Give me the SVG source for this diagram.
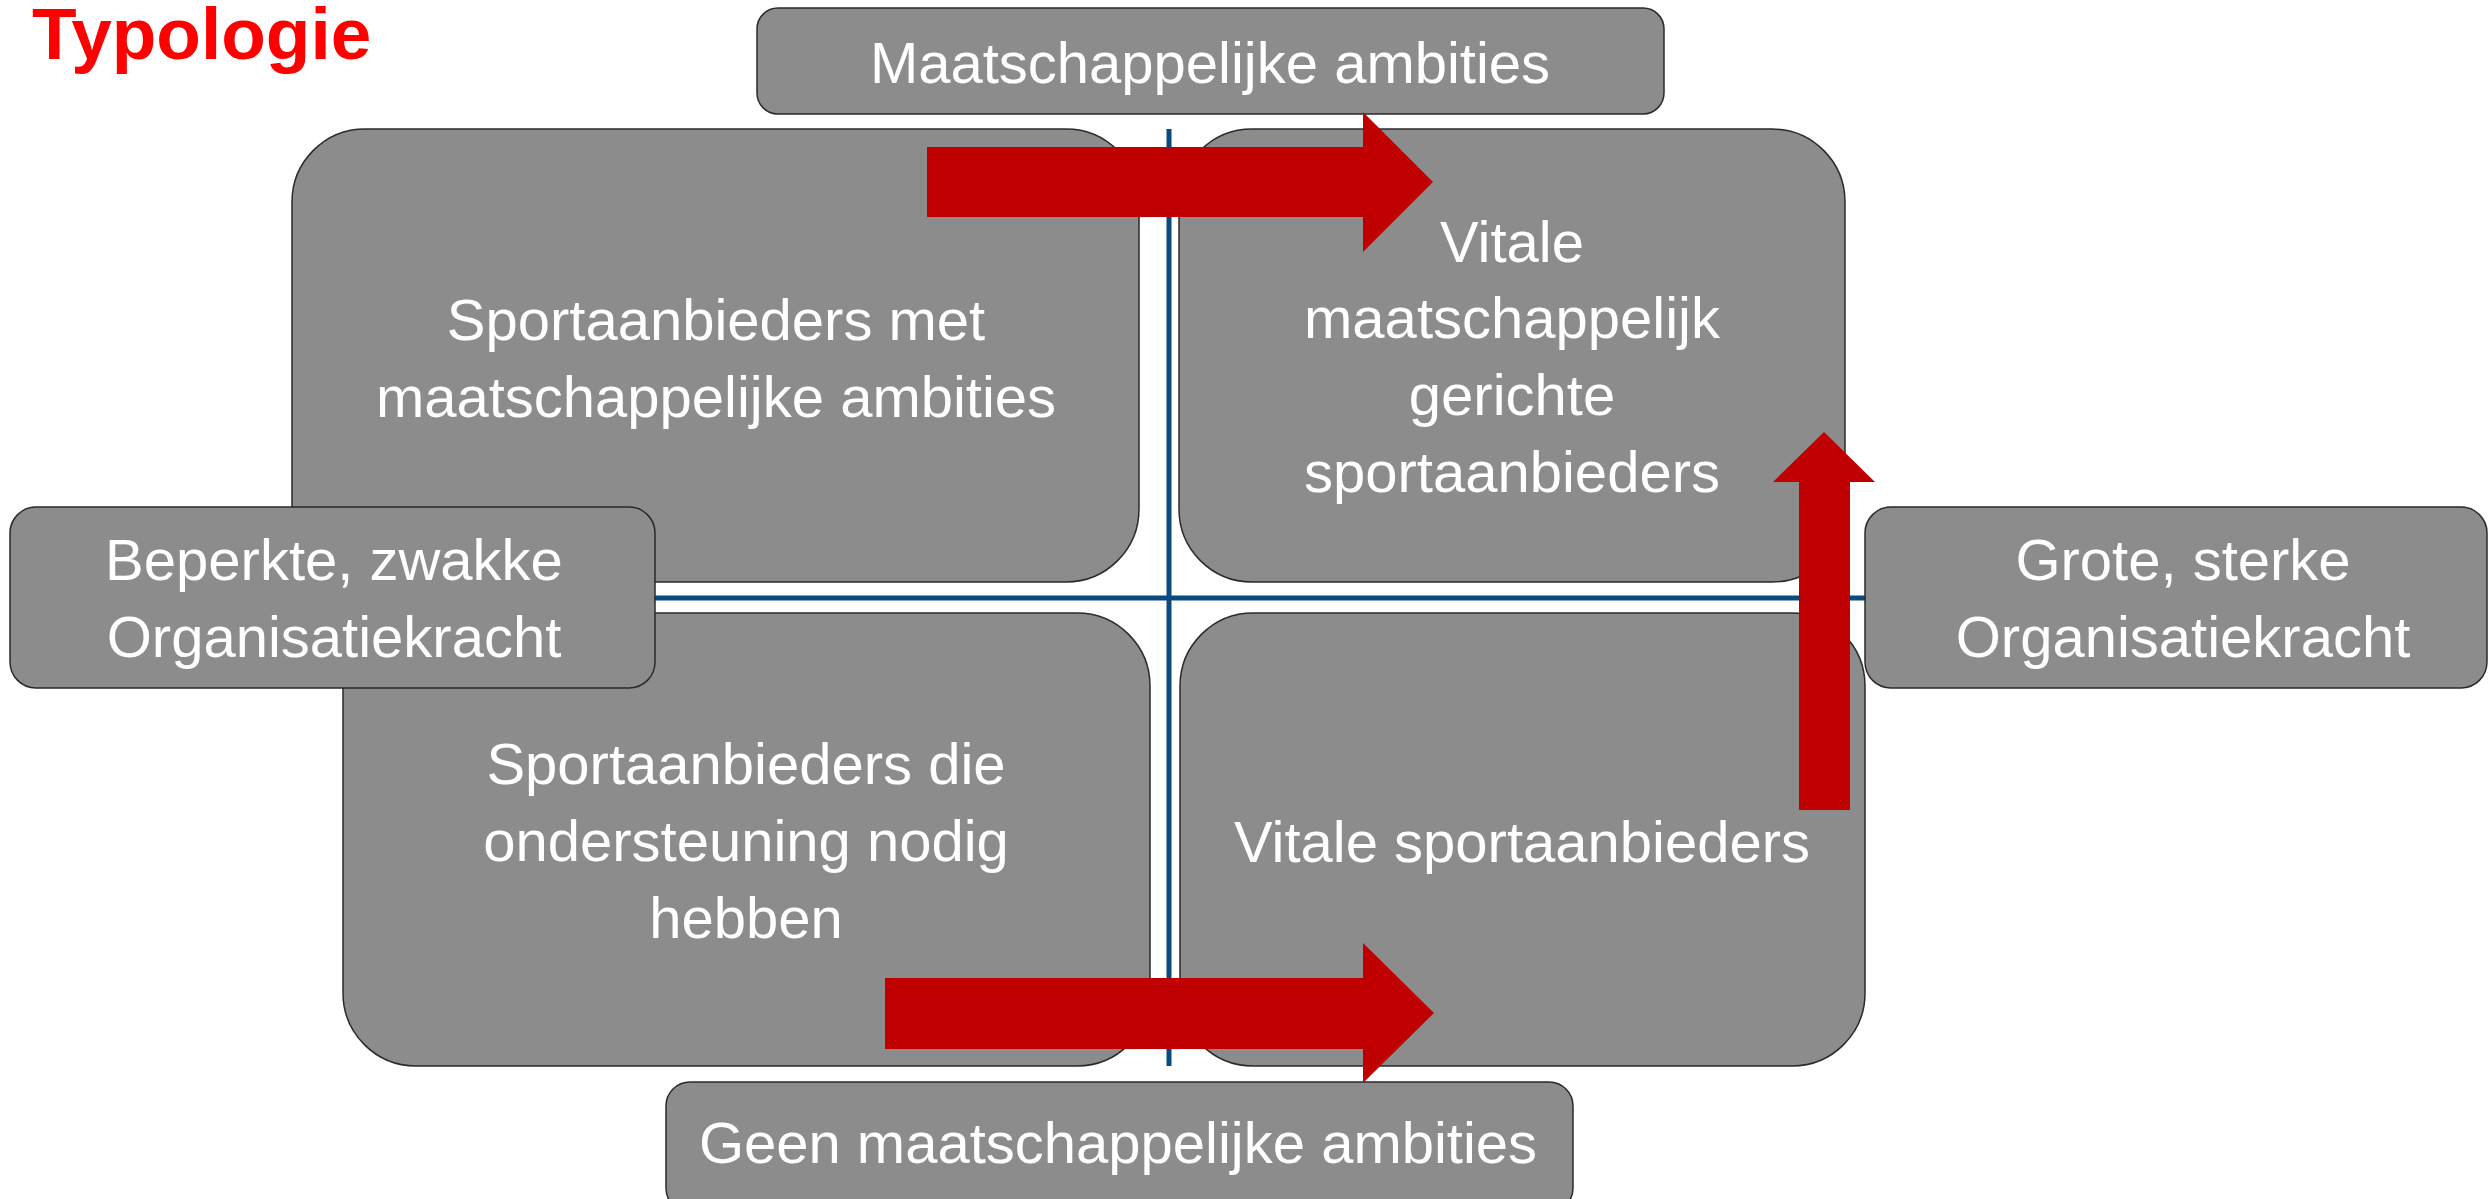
<svg xmlns="http://www.w3.org/2000/svg" width="2489" height="1199" viewBox="0 0 2489 1199">
<style>
.box{fill:#8c8c8c;stroke:#2a2a2a;stroke-width:1.5}
.t{font-family:"Liberation Sans",Arial,sans-serif;font-size:58px;fill:#ffffff;text-anchor:middle}
.axis{stroke:#0b4a80;stroke-width:5;fill:none}
.arrow{fill:#c00000}
</style>
<rect width="2489" height="1199" fill="#ffffff"/>
<text x="32" y="59" font-family="Liberation Sans,Arial,sans-serif" font-weight="bold" font-size="73" fill="#ff0000">Typologie</text>
<g id="axes">
<line class="axis" x1="1169" y1="129" x2="1169" y2="1066"/>
<line class="axis" x1="650" y1="598" x2="1870" y2="598"/>
</g>
<g id="q-top-left">
<rect class="box" x="292" y="129" width="847" height="453" rx="73" ry="73"/>
<text class="t" x="716" y="340">Sportaanbieders met</text>
<text class="t" x="716" y="417">maatschappelijke ambities</text>
</g>
<g id="q-top-right">
<rect class="box" x="1179" y="129" width="666" height="453" rx="73" ry="73"/>
<text class="t" x="1512" y="262">Vitale</text>
<text class="t" x="1512" y="338">maatschappelijk</text>
<text class="t" x="1512" y="415">gerichte</text>
<text class="t" x="1512" y="492">sportaanbieders</text>
</g>
<g id="q-bottom-left">
<rect class="box" x="343" y="613" width="807" height="453" rx="73" ry="73"/>
<text class="t" x="746" y="784">Sportaanbieders die</text>
<text class="t" x="746" y="861">ondersteuning nodig</text>
<text class="t" x="746" y="938">hebben</text>
</g>
<g id="q-bottom-right">
<rect class="box" x="1180" y="613" width="685" height="453" rx="73" ry="73"/>
<text class="t" x="1522" y="862">Vitale sportaanbieders</text>
</g>
<g id="label-top">
<rect class="box" x="757" y="8" width="907" height="106" rx="21" ry="21"/>
<text class="t" x="1210" y="83">Maatschappelijke ambities</text>
</g>
<g id="label-left">
<rect class="box" x="10" y="507" width="645" height="181" rx="26" ry="26"/>
<text class="t" x="334" y="580">Beperkte, zwakke</text>
<text class="t" x="334" y="657">Organisatiekracht</text>
</g>
<g id="label-right">
<rect class="box" x="1865" y="507" width="622" height="181" rx="26" ry="26"/>
<text class="t" x="2183" y="580">Grote, sterke</text>
<text class="t" x="2183" y="657">Organisatiekracht</text>
</g>
<g id="label-bottom">
<rect class="box" x="666" y="1082" width="907" height="130" rx="24" ry="24"/>
<text class="t" x="1118" y="1163">Geen maatschappelijke ambities</text>
</g>
<g id="connectors">
<polygon class="arrow" points="927,147 1363,147 1363,112 1433,182 1363,252 1363,217 927,217"/>
<polygon class="arrow" points="885,978 1363,978 1363,943 1434,1013 1363,1083 1363,1049 885,1049"/>
<polygon class="arrow" points="1799,810 1799,482 1773,482 1824,432 1875,482 1850,482 1850,810"/>
</g>
</svg>
